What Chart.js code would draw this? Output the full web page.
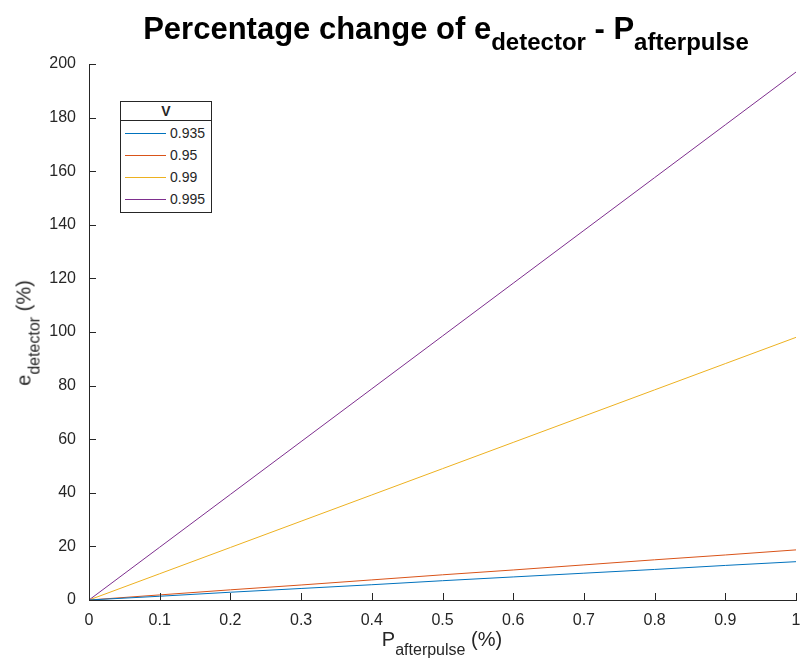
<!DOCTYPE html>
<html>
<head>
<meta charset="utf-8">
<script src="https://cdn.jsdelivr.net/npm/chart.js@4/dist/chart.umd.min.js"></script>
<style>
  html, body { margin: 0; padding: 0; background: #fff; }
  #wrap { position: relative; width: 800px; height: 670px; font-family: "Liberation Sans", Arial, sans-serif; color: #262626; }
  #chart { position: absolute; left: 0; top: 0; }
  .title { position: absolute; left: 0; width: 892px; top: 11px; text-align: center; font-weight: bold; font-size: 31px; color: #000; white-space: nowrap; }
  .title sub { font-size: 24px; vertical-align: -11px; }
  .xlab { position: absolute; left: 0; width: 884px; top: 628px; text-align: center; font-size: 20px; white-space: nowrap; }
  .xlab sub { font-size: 16px; vertical-align: -9px; }
  .ylab { position: absolute; left: 28px; top: 333px; transform: translate(-50%, -50%) rotate(-90deg); font-size: 20px; white-space: nowrap; }
  .ylab sub { font-size: 16px; vertical-align: -9px; }
  #legend { position: absolute; left: 120px; top: 101px; width: 90px; border: 1px solid #262626; background: #fff; font-size: 14px; }
  #legend .head { text-align: center; font-weight: bold; border-bottom: 1px solid #262626; height: 18px; line-height: 18px; }
  #legend .row { height: 22px; display: flex; align-items: center; }
  #legend .row span.ln { display: inline-block; width: 41px; height: 0; border-top-width: 1px; border-top-style: solid; margin-left: 4px; margin-right: 4px; }
  #legend .rows { padding: 1px 0 2px 0; }
</style>
</head>
<body>
<div id="wrap">
  <canvas id="chart" width="800" height="670"></canvas>
  <div class="title">Percentage change of e<sub>detector</sub> - P<sub>afterpulse</sub></div>
  <div class="ylab">e<sub>detector</sub> (%)</div>
  <div class="xlab">P<sub>afterpulse</sub> (%)</div>
  <div id="legend"><div class="head">V</div><div class="rows" id="legendRows"></div></div>
</div>
<script>
// x values (P_afterpulse, %)
const pAfterpulse = [0, 0.1, 0.2, 0.3, 0.4, 0.5, 0.6, 0.7, 0.8, 0.9, 1];

// e_detector change (%) for each V
const seriesNames = ['0.935', '0.95', '0.99', '0.995'];
const v0935 = [0, 1.4, 2.9, 4.3, 5.7, 7.2, 8.6, 10.0, 11.4, 12.9, 14.3];
const v095  = [0, 1.9, 3.8, 5.6, 7.5, 9.4, 11.2, 13.1, 15.0, 16.8, 18.7];
const v099  = [0, 9.8, 19.6, 29.4, 39.2, 49.0, 58.8, 68.6, 78.4, 88.2, 98.0];
const v0995 = [0, 19.7, 39.4, 59.1, 78.8, 98.5, 118.2, 137.9, 157.6, 177.3, 197.0];

const xTicks = [0, 0.1, 0.2, 0.3, 0.4, 0.5, 0.6, 0.7, 0.8, 0.9, 1];
const yTicks = [0, 20, 40, 60, 80, 100, 120, 140, 160, 180, 200];

const colors = ['#0072BD', '#D95319', '#EDB120', '#7E2F8E'];
const axisColor = '#262626';

function toPoints(ys) {
    return pAfterpulse.map((x, i) => ({ x: x, y: ys[i] }));
}

const allSeries = [v0935, v095, v099, v0995];

// inward tick marks like matlab
const inwardTicks = {
    id: 'inwardTicks',
    afterDatasetsDraw(chart) {
        const ctx = chart.ctx;
        const xs = chart.scales.x, ys = chart.scales.y;
        const a = chart.chartArea;
        ctx.save();
        ctx.strokeStyle = axisColor;
        ctx.lineWidth = 1;
        ctx.beginPath();
        xTicks.forEach(v => {
            const px = Math.round(xs.getPixelForValue(v)) + 0.5;
            ctx.moveTo(px, a.bottom);
            ctx.lineTo(px, a.bottom - 7);
        });
        yTicks.forEach(v => {
            const py = Math.round(ys.getPixelForValue(v)) + 0.5;
            ctx.moveTo(a.left, py);
            ctx.lineTo(a.left + 7, py);
        });
        ctx.stroke();
        ctx.restore();
    }
};

const ctx = document.getElementById('chart').getContext('2d');
new Chart(ctx, {
    type: 'line',
    data: {
        datasets: allSeries.map((s, i) => ({
            label: seriesNames[i],
            data: toPoints(s),
            borderColor: colors[i],
            backgroundColor: colors[i],
            borderWidth: 1,
            pointRadius: 0,
            tension: 0,
            fill: false
        }))
    },
    options: {
        responsive: false,
        animation: false,
        layout: { padding: { left: 0, top: 64, right: 4, bottom: 0 } },
        plugins: {
            legend: { display: false },
            tooltip: { enabled: false }
        },
        scales: {
            x: {
                type: 'linear',
                min: 0,
                max: 1,
                afterBuildTicks: s => { s.ticks = xTicks.map(v => ({ value: v })); },
                afterFit: s => { s.height = 70; s.paddingLeft = 0; s.paddingRight = 0; },
                grid: { display: true, drawOnChartArea: false, drawTicks: false },
                border: { color: axisColor, width: 1 },
                ticks: {
                    padding: 11,
                    color: axisColor,
                    font: { family: '"Liberation Sans", Arial', size: 16 },
                    callback: v => String(Math.round(v * 10) / 10)
                }
            },
            y: {
                type: 'linear',
                min: 0,
                max: 200,
                afterBuildTicks: s => { s.ticks = yTicks.map(v => ({ value: v })); },
                afterFit: s => { s.width = 89; s.paddingTop = 0; s.paddingBottom = 0; },
                grid: { display: true, drawOnChartArea: false, drawTicks: false },
                border: { color: axisColor, width: 1 },
                ticks: {
                    padding: 13,
                    color: axisColor,
                    font: { family: '"Liberation Sans", Arial', size: 16 }
                }
            }
        }
    },
    plugins: [inwardTicks]
});

// legend built from the datasets
const rows = document.getElementById('legendRows');
seriesNames.forEach((n, i) => {
    const r = document.createElement('div');
    r.className = 'row';
    r.innerHTML = '<span class="ln" style="border-top-color:' + colors[i] + '"></span><span>' + n + '</span>';
    rows.appendChild(r);
});
</script>
</body>
</html>
